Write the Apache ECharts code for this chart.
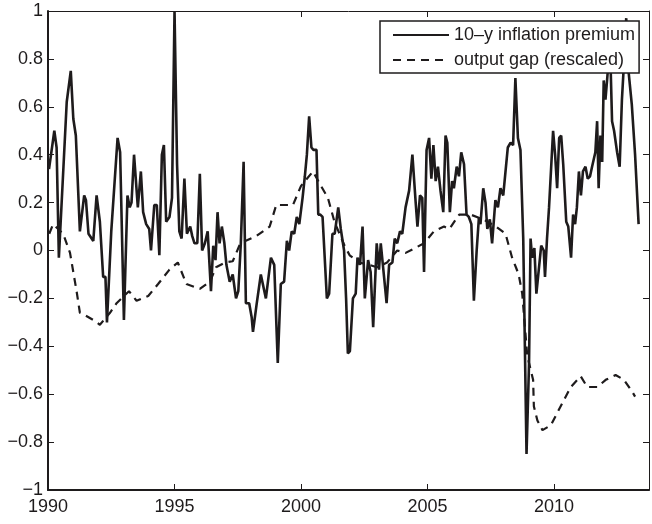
<!DOCTYPE html>
<html>
<head>
<meta charset="utf-8">
<script src="https://cdn.jsdelivr.net/npm/echarts@6/dist/echarts.min.js"></script>
<style>
html,body{margin:0;padding:0;background:#fff;}
#chart{width:652px;height:524px;}
</style>
</head>
<body>
<div id="chart"></div>
<script>
// 10-y inflation premium (solid)
var premiumYears = [
1990.04,1990.25,1990.34,1990.43,1990.74,1990.9,1991.0,1991.1,1991.26,1991.43,1991.5,1991.6,1991.79,1991.92,1992.05,1992.18,1992.27,1992.33,1992.5,1992.75,1992.85,1993.0,1993.14,1993.23,1993.3,1993.4,1993.55,1993.67,1993.76,1993.88,
1994.0,1994.07,1994.2,1994.3,1994.4,1994.5,1994.58,1994.67,1994.8,1994.9,1995.0,1995.1,1995.19,1995.28,1995.39,1995.49,1995.62,1995.7,1995.79,1995.9,
1996.0,1996.09,1996.2,1996.31,1996.44,1996.53,1996.62,1996.7,1996.78,1996.87,1996.97,1997.05,1997.12,1997.18,1997.3,1997.43,1997.52,1997.62,1997.73,1997.82,
1997.95,1998.05,1998.1,1998.25,1998.41,1998.61,1998.81,1998.94,1999.08,1999.2,1999.33,1999.44,1999.53,1999.63,1999.73,1999.83,1999.93,
2000.06,2000.15,2000.23,2000.32,2000.41,2000.49,2000.61,2000.68,2000.76,2000.85,2001.02,2001.11,2001.24,2001.33,2001.47,2001.57,2001.7,2001.78,2001.85,2001.93,
2002.05,2002.16,2002.23,2002.33,2002.43,2002.52,2002.65,2002.75,2002.85,2002.99,2003.08,2003.15,2003.28,2003.38,2003.48,2003.61,2003.7,2003.8,2003.91,
2004.0,2004.13,2004.27,2004.4,2004.53,2004.6,2004.7,2004.79,2004.86,2004.96,2005.06,2005.15,2005.23,2005.32,2005.41,2005.51,2005.62,2005.71,2005.78,2005.88,2005.97,
2006.04,2006.15,2006.24,2006.33,2006.44,2006.54,2006.63,2006.73,2006.83,2006.94,2007.03,2007.09,2007.2,2007.29,2007.36,2007.46,2007.55,2007.68,2007.78,2007.88,2007.99,
2008.08,2008.17,2008.28,2008.38,2008.47,2008.57,2008.67,2008.78,2008.91,2009.01,2009.07,2009.13,2009.22,2009.3,2009.49,2009.59,2009.64,2009.72,2009.8,2009.96,
2010.04,2010.12,2010.2,2010.28,2010.36,2010.48,2010.56,2010.67,2010.75,2010.83,2010.9,2010.98,2011.06,2011.14,2011.24,2011.33,2011.42,2011.5,2011.63,2011.7,2011.76,2011.83,2011.9,2011.96,
2012.03,2012.1,2012.16,2012.22,2012.29,2012.37,2012.49,2012.59,2012.68,2012.77,2012.85,2012.93,2013.07,2013.2,2013.34
];
var premiumValues = [
0.34,0.50,0.43,-0.03,0.62,0.75,0.55,0.48,0.08,0.23,0.21,0.07,0.04,0.23,0.12,-0.11,-0.11,-0.30,0.08,0.47,0.41,-0.29,0.23,0.18,0.20,0.40,0.18,0.33,0.16,0.11,
0.09,0.00,0.19,0.19,-0.02,0.40,0.44,0.12,0.14,0.22,1.00,0.36,0.08,0.05,0.30,0.07,0.10,0.06,0.03,0.03,
0.32,0.00,0.03,0.08,-0.17,0.02,-0.04,0.16,0.03,0.10,0.03,-0.06,-0.06,-0.13,-0.10,-0.20,-0.17,0.03,0.37,-0.22,
-0.22,-0.28,-0.34,-0.22,-0.10,-0.20,-0.03,-0.06,-0.47,-0.14,-0.13,0.04,0.00,0.08,0.07,0.14,0.11,
0.22,0.31,0.40,0.56,0.43,0.42,0.42,0.15,0.15,0.14,-0.20,-0.18,0.07,0.07,0.18,0.09,0.00,-0.20,-0.43,-0.42,
-0.20,-0.18,-0.03,-0.06,0.10,-0.20,-0.04,-0.09,-0.32,0.03,-0.08,0.03,-0.11,-0.22,-0.06,-0.05,0.05,0.03,0.08,
0.07,0.18,0.25,0.40,0.20,0.10,0.23,0.22,-0.09,0.42,0.47,0.30,0.44,0.29,0.35,0.25,0.16,0.48,0.45,0.16,0.29,
0.26,0.35,0.31,0.41,0.36,0.15,0.14,0.11,-0.21,0.00,0.14,0.11,0.26,0.20,0.09,0.13,0.03,0.21,0.18,0.26,0.23,
0.33,0.43,0.45,0.44,0.72,0.47,0.42,0.05,-0.85,-0.47,0.05,-0.03,0.01,-0.18,0.02,0.00,-0.11,0.05,0.18,0.50,
0.40,0.26,0.47,0.48,0.36,0.12,0.10,-0.03,0.15,0.11,0.18,0.33,0.23,0.33,0.35,0.30,0.31,0.35,0.41,0.54,0.26,0.48,0.37,0.71,
0.63,0.72,0.80,0.82,0.54,0.50,0.41,0.35,0.63,0.80,0.97,0.76,0.61,0.40,0.11
];
// output gap (rescaled) (dashed)
var gapYears = [
1990.05,1990.2,1990.4,1990.6,1990.87,1991.0,1991.13,1991.26,1991.46,1991.79,1992.05,1992.45,1992.71,1993.0,1993.2,1993.5,1993.96,1994.35,1994.8,1995.13,
1995.47,1996.0,1996.4,1996.64,1997.0,1997.3,1997.6,1998.23,1998.76,1999.02,1999.68,2000.0,2000.47,2000.73,2001.06,2001.32,2001.72,2001.92,2002.3,2002.7,
2003.0,2003.4,2003.8,2004.13,2004.5,2004.86,2005.25,2005.65,2005.86,2006.25,2006.7,2007.2,2007.7,2008.08,2008.34,2008.49,2008.6,2008.74,2008.94,2009.17,
2009.2,2009.34,2009.54,2009.87,2010.26,2010.66,2011.05,2011.31,2011.71,2012.04,2012.43,2012.76,2013.09,2013.2
];
var gapValues = [
0.07,0.11,0.09,0.07,-0.01,-0.09,-0.17,-0.26,-0.27,-0.29,-0.31,-0.26,-0.22,-0.19,-0.17,-0.21,-0.19,-0.14,-0.08,-0.05,
-0.14,-0.16,-0.13,-0.07,-0.05,-0.045,0.03,0.06,0.10,0.19,0.19,0.27,0.33,0.28,0.22,0.12,0.02,-0.02,-0.05,-0.06,
-0.07,-0.05,0.00,-0.01,0.01,0.03,0.08,0.10,0.09,0.15,0.15,0.13,0.10,0.07,-0.03,-0.07,-0.10,-0.18,-0.44,-0.54,
-0.65,-0.71,-0.75,-0.73,-0.65,-0.57,-0.525,-0.57,-0.57,-0.54,-0.52,-0.54,-0.59,-0.61
];
var seriesNames = ['10\u2013y inflation premium', 'output gap (rescaled)'];
var xTicks = {min: 1990, max: 2013.75, step: 5};
var yTicks = {min: -1, max: 1, step: 0.2};

function zip(a, b) { return a.map(function (v, i) { return [v, b[i]]; }); }

var FONT = '"Liberation Sans", Arial, Helvetica, sans-serif';
var INK = '#1e1b1c';

function xFmt(v) { return Math.abs(v % 5) < 1e-6 ? String(Math.round(v)) : ''; }
function yFmt(v) {
  var r = Math.round(v * 10) / 10;
  return r < 0 ? '\u2212' + String(Math.abs(r)) : String(r);
}

function xAxis(pos, showLabel, w) {
  return {
    type: 'value', position: pos, min: xTicks.min, max: xTicks.max, interval: xTicks.step,
    axisLine: {show: true, onZero: false, lineStyle: {color: INK, width: w}},
    axisTick: {show: true, inside: true, length: 6, lineStyle: {color: INK, width: 1}},
    axisLabel: {show: showLabel, formatter: xFmt, fontSize: 18, color: INK, margin: 8, fontFamily: FONT},
    splitLine: {show: false}
  };
}
function yAxis(pos, showLabel, w) {
  return {
    type: 'value', position: pos, min: yTicks.min, max: yTicks.max, interval: yTicks.step,
    axisLine: {show: true, onZero: false, lineStyle: {color: INK, width: w}},
    axisTick: {show: true, inside: true, length: 6, lineStyle: {color: INK, width: 1}},
    axisLabel: {show: showLabel, formatter: yFmt, fontSize: 18, color: INK, margin: 5, fontFamily: FONT},
    splitLine: {show: false}
  };
}

var chart = echarts.init(document.getElementById('chart'), null, {renderer: 'canvas'});
chart.setOption({
  animation: false,
  backgroundColor: '#fff',
  grid: {left: 48, top: 11, right: 2, bottom: 34, containLabel: false},
  xAxis: [xAxis('bottom', true, 2), xAxis('top', false, 1)],
  yAxis: [yAxis('left', true, 2), yAxis('right', false, 1)],
  legend: {
    data: seriesNames,
    orient: 'vertical',
    left: 380, top: 21,
    padding: [4, 4, 3, 12],
    itemGap: 5,
    itemWidth: 56, itemHeight: 14,
    backgroundColor: '#fff',
    borderColor: INK, borderWidth: 1.5, borderRadius: 0,
    itemStyle: {opacity: 0, borderWidth: 0},
    textStyle: {fontSize: 18, color: INK, fontFamily: FONT, lineHeight: 20},
    selectedMode: false
  },
  series: [
    {
      name: seriesNames[0], type: 'line', xAxisIndex: 0, yAxisIndex: 0,
      data: zip(premiumYears, premiumValues),
      symbol: 'none', showSymbol: false,
      lineStyle: {color: INK, width: 2.6, type: 'solid'},
      itemStyle: {color: INK},
      z: 3
    },
    {
      name: seriesNames[1], type: 'line', xAxisIndex: 0, yAxisIndex: 0,
      data: zip(gapYears, gapValues),
      symbol: 'none', showSymbol: false,
      lineStyle: {color: INK, width: 2.2, type: [8, 6]},
      itemStyle: {color: INK},
      z: 2
    }
  ]
});
</script>
</body>
</html>
